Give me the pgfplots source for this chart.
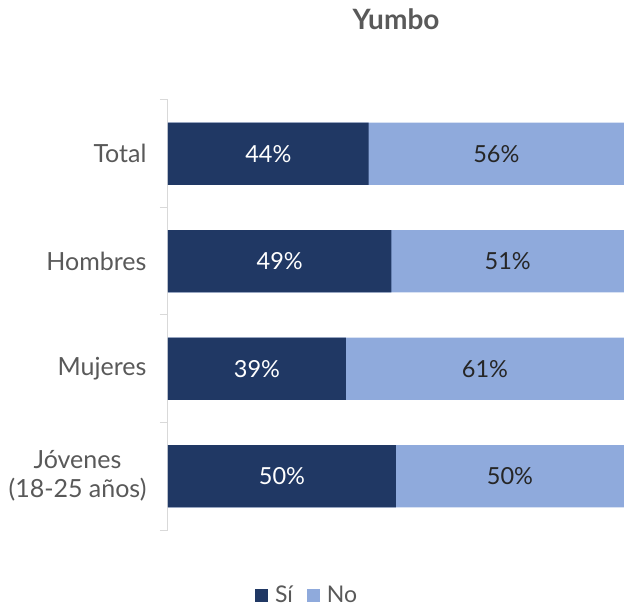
\documentclass[border=0pt]{standalone}
\usepackage{pgfplots}
\pgfplotsset{compat=1.18}
\usepackage{pgfplotstable}
\usepackage{fontspec}
\setmainfont{Lato}

\definecolor{si}{HTML}{203864}
\definecolor{no}{HTML}{8FAADC}
\definecolor{txt}{HTML}{595959}
\definecolor{axisgray}{HTML}{D9D9D9}

% y: posicion de la categoria (1 = arriba)
\pgfplotstableread{
y si no
1 44 56
2 49 51
3 39 61
4 50 50
}\yumbo

\begin{document}
\begin{tikzpicture}
\path[use as bounding box] (-168pt,-79pt) rectangle (456pt,530pt);
\begin{axis}[
  at={(0pt,0pt)}, anchor=south west,
  scale only axis,
  width=456pt, height=430pt,
  xmin=0, xmax=100,
  ymin=0.5, ymax=4.5,
  y dir=reverse,
  axis x line=none,
  axis y line*=left,
  axis line style={axisgray, line width=1pt},
  ytick={1,2,3,4},
  yticklabels={Total,Hombres,Mujeres,{Jóvenes\\(18-25 años)}},
  minor ytick={0.5,1.5,2.5,3.5,4.5},
  major tick length=0pt,
  minor tick length=8pt,
  tick align=outside,
  every tick/.style={axisgray, line width=1pt},
  minor tick style={axisgray, line width=1pt},
  yticklabel style={font=\fontsize{25}{29}\selectfont, text=txt, align=center, xshift=-18pt},
  title={\textbf{Yumbo}},
  title style={at={(0.5,1)}, anchor=center, yshift=75pt, font=\fontsize{28}{32}\selectfont, text=txt},
  legend style={at={(0.305,-0.152)}, anchor=center, draw=none, fill=none, inner sep=0pt,
    font=\fontsize{23}{26}\selectfont, text=txt,
    /tikz/every odd column/.append style={column sep=5pt},
    /tikz/every even column/.append style={column sep=12pt}},
  legend columns=2,
  legend image code/.code={\fill[#1] (0pt,-6.5pt) rectangle (13pt,6.5pt);},
  clip=false,
]
\addlegendimage{fill=si, draw=none}
\addlegendentry{Sí}
\addlegendimage{fill=no, draw=none}
\addlegendentry{No}

% barra completa (Sí + No) en azul claro, luego Sí encima
\addplot[xbar, bar width=0.58, fill=no, draw=none, forget plot]
  table[x expr=\thisrow{si}+\thisrow{no}, y=y] {\yumbo};
\addplot[xbar, bar width=0.58, fill=si, draw=none, forget plot]
  table[x=si, y=y] {\yumbo};

% etiquetas centradas en cada tramo
\addplot[draw=none, mark=none, forget plot, point meta=explicit,
  nodes near coords={\pgfmathprintnumber{\pgfplotspointmeta}\%},
  every node near coord/.style={anchor=center, text=white, font=\fontsize{23.5}{27}\selectfont, /pgf/number format/assume math mode=true}]
  table[x expr=\thisrow{si}/2, y=y, meta=si] {\yumbo};
\addplot[draw=none, mark=none, forget plot, point meta=explicit,
  nodes near coords={\pgfmathprintnumber{\pgfplotspointmeta}\%},
  every node near coord/.style={anchor=center, text=black!85, font=\fontsize{23.5}{27}\selectfont, /pgf/number format/assume math mode=true}]
  table[x expr=\thisrow{si}+\thisrow{no}/2, y=y, meta=no] {\yumbo};
\end{axis}
\end{tikzpicture}
\end{document}
